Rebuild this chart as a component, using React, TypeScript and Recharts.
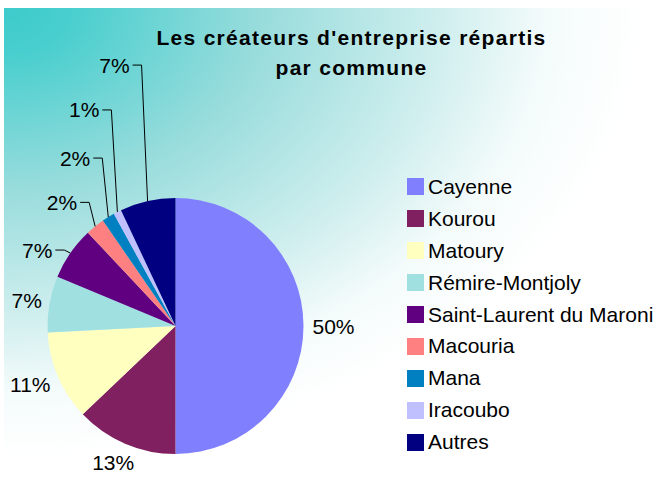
import { PieChart, Pie, Cell, Legend } from "recharts";

const communes = [
  "Cayenne",
  "Kourou",
  "Matoury",
  "Rémire-Montjoly",
  "Saint-Laurent du Maroni",
  "Macouria",
  "Mana",
  "Iracoubo",
  "Autres",
];
const shares = [50.0, 12.9, 11.3, 7.1, 6.7, 2.4, 1.6, 1.0, 7.0];
const colors = [
  "#8080FF",
  "#802060",
  "#FFFFC0",
  "#A0E0E0",
  "#600080",
  "#FF8080",
  "#0080C0",
  "#C0C0FF",
  "#000080",
];
// small slices up-left get a callout label lifted above the slice
const calloutLift: Record<string, number> = {
  "Saint-Laurent du Maroni": 3,
  Macouria: 24,
  Mana: 59,
  Iracoubo: 102,
  Autres: 136,
};

const data = communes.map((name, i) => ({ name, value: shares[i] }));

const FONT = "'Liberation Sans', Arial, sans-serif";
const RAD = Math.PI / 180;

function renderLabel(props: any) {
  const { cx, cy, midAngle, outerRadius, percent } = props;
  const name = props.name ?? props.payload?.name;
  const text = `${Math.round(percent * 100)}%`;
  const ux = Math.cos(-midAngle * RAD);
  const uy = Math.sin(-midAngle * RAD);
  const ex = cx + outerRadius * ux;
  const ey = cy + outerRadius * uy;
  const lift = calloutLift[name];

  if (lift !== undefined) {
    const ly = ey - lift;
    const elbow = ex - 6;
    return (
      <g>
        <polyline
          points={`${elbow - 9},${ly} ${elbow},${ly} ${ex},${ey}`}
          fill="none"
          stroke="#000"
          strokeWidth={1}
        />
        <text
          x={elbow - 12}
          y={ly}
          textAnchor="end"
          dominantBaseline="central"
          fontFamily={FONT}
          fontSize={21}
          fill="#000"
        >
          {text}
        </text>
      </g>
    );
  }

  const hw = text.length * 7;
  const tx = ex + ux * (9 + hw);
  const ty = ey + uy * (9 + 11);
  return (
    <text
      x={tx}
      y={ty}
      textAnchor="middle"
      dominantBaseline="central"
      fontFamily={FONT}
      fontSize={21}
      fill="#000"
    >
      {text}
    </text>
  );
}

function LegendBox() {
  return (
    <div style={{ fontFamily: FONT, fontSize: 21, color: "#000" }}>
      {communes.map((name, i) => (
        <div
          key={name}
          style={{ display: "flex", alignItems: "center", height: 31.9 }}
        >
          <span
            style={{
              display: "inline-block",
              width: 17,
              height: 17,
              background: colors[i],
              marginRight: 4,
            }}
          />
          <span style={{ lineHeight: "22px" }}>{name}</span>
        </div>
      ))}
    </div>
  );
}

export default function App() {
  return (
    <div
      style={{
        position: "absolute",
        left: 0,
        top: 0,
        width: 661,
        height: 477,
        background: "#fff",
        overflow: "hidden",
      }}
    >
      <div
        style={{
          position: "absolute",
          left: 4,
          top: 8,
          width: 657,
          height: 469,
          background:
            "radial-gradient(640px 450px at 0px 0px, #3ECBCB 0%, #48CECE 10%, #98DCDC 40%, #CFEEEE 68%, #F4FBFB 85%, #FFFFFF 100%)",
        }}
      />
      <div
        style={{
          position: "absolute",
          left: 151.5,
          top: 23,
          width: 400,
          textAlign: "center",
          fontFamily: FONT,
          fontWeight: "bold",
          fontSize: 21,
          letterSpacing: 1.3,
          lineHeight: "30px",
          color: "#000",
        }}
      >
        Les créateurs d'entreprise répartis
        <br />
        par commune
      </div>
      <div style={{ position: "absolute", left: 0, top: 0 }}>
        <PieChart
          width={661}
          height={477}
          margin={{ top: 0, right: 0, bottom: 0, left: 0 }}
        >
          <Pie
            data={data}
            dataKey="value"
            nameKey="name"
            cx={175.5}
            cy={326}
            outerRadius={128}
            startAngle={90}
            endAngle={-270}
            stroke="none"
            label={renderLabel}
            labelLine={false}
            isAnimationActive={false}
          >
            {data.map((d, i) => (
              <Cell key={d.name} fill={colors[i]} />
            ))}
          </Pie>
          <Legend
            content={<LegendBox />}
            wrapperStyle={{ left: 407, top: 171, width: 254, bottom: "auto" }}
          />
        </PieChart>
      </div>
    </div>
  );
}
